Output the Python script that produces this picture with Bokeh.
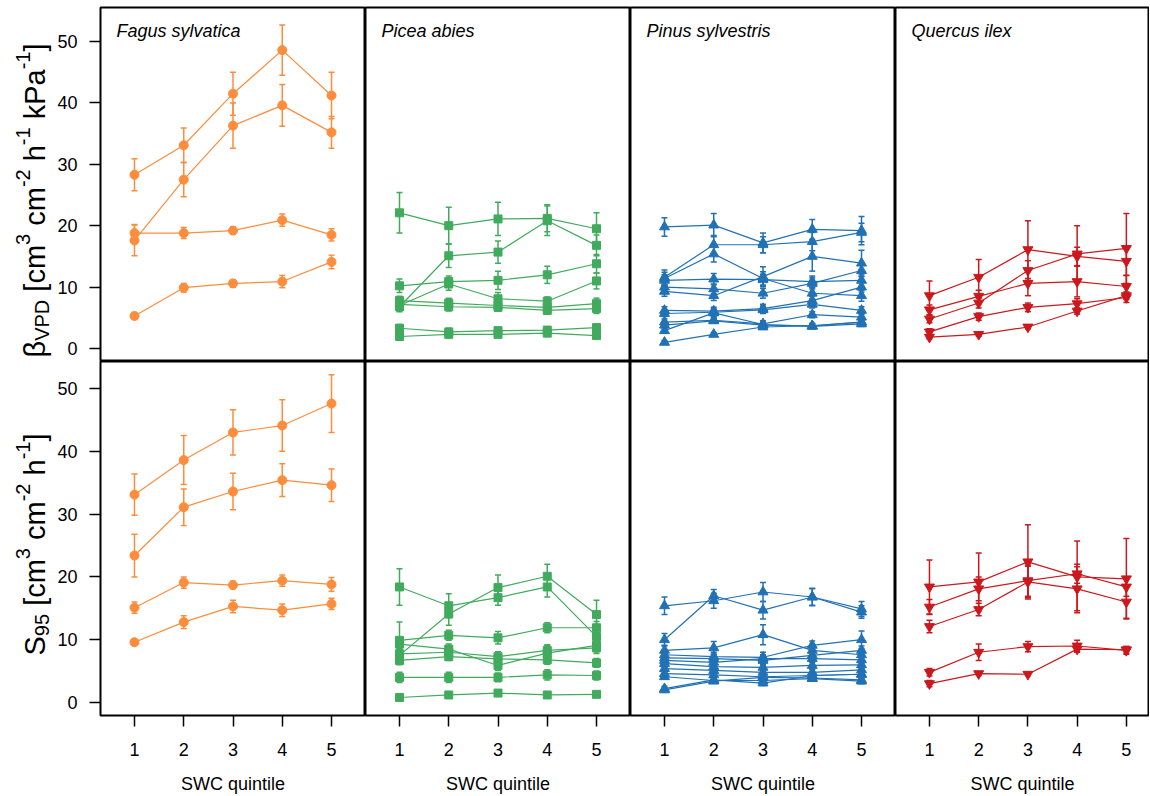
import numpy as np
from bokeh.plotting import figure
from bokeh.models import ColumnDataSource, Whisker, TeeHead, Label, FixedTicker, Range1d
from bokeh.layouts import gridplot
from bokeh.embed import file_html
from bokeh.resources import INLINE

# ---------------- data ----------------
quintile = [1, 2, 3, 4, 5]
species = ["Fagus sylvatica", "Picea abies", "Pinus sylvestris", "Quercus ilex"]
y_ticks = [0, 10, 20, 30, 40, 50]

# Fagus sylvatica
fs_beta = [[28.3, 33.1, 41.5, 48.6, 41.2],
           [17.6, 27.5, 36.3, 39.6, 35.2],
           [18.8, 18.8, 19.2, 20.9, 18.5],
           [5.3, 9.9, 10.6, 10.9, 14.1]]
fs_beta_se = [[2.6, 2.8, 3.5, 4.1, 3.8],
              [2.5, 2.8, 3.7, 3.4, 2.6],
              [1.4, 0.9, 0.6, 1.0, 1.0],
              [0.3, 0.7, 0.6, 1.0, 1.1]]
fs_s95 = [[33.1, 38.6, 43.0, 44.1, 47.6],
          [23.4, 31.1, 33.6, 35.4, 34.6],
          [15.1, 19.1, 18.7, 19.4, 18.8],
          [9.6, 12.8, 15.3, 14.7, 15.7]]
fs_s95_se = [[3.3, 3.9, 3.6, 4.1, 4.6],
             [3.4, 2.9, 2.9, 2.6, 2.6],
             [0.9, 0.9, 0.6, 0.9, 1.1],
             [0.3, 1.0, 1.0, 1.0, 0.9]]

# Picea abies
pa_beta = [[22.1, 20.0, 21.1, 21.2, 19.5],
           [6.8, 15.1, 15.7, 20.8, 16.8],
           [10.2, 10.9, 11.1, 12.0, 13.8],
           [7.0, 10.5, 8.1, 7.7, 11.0],
           [7.8, 7.4, 7.0, 6.7, 7.3],
           [7.2, 6.8, 6.7, 6.2, 6.5],
           [3.3, 2.7, 2.9, 3.0, 3.4],
           [1.95, 2.3, 2.3, 2.5, 2.1]]
pa_beta_se = [[3.3, 3.0, 2.7, 2.2, 2.6],
              [0.8, 1.9, 1.8, 2.4, 1.7],
              [1.1, 0.9, 1.5, 1.4, 1.5],
              [0.8, 1.0, 1.0, 0.7, 1.3],
              [0.7, 0.8, 0.8, 0.7, 0.9],
              [0.6, 0.7, 0.6, 0.6, 0.8],
              [0.6, 0.6, 0.5, 0.5, 0.5],
              [0.3, 0.3, 0.3, 0.3, 0.3]]
pa_s95 = [[18.4, 15.4, 16.7, 18.4, 10.5],
          [7.5, 14.1, 18.3, 20.1, 14.0],
          [9.9, 10.7, 10.3, 11.9, 11.9],
          [9.3, 8.5, 5.9, 7.85, 9.1],
          [7.75, 8.0, 7.3, 8.3, 8.7],
          [6.7, 7.3, 6.95, 6.8, 6.3],
          [4.0, 4.0, 4.0, 4.4, 4.3],
          [0.8, 1.2, 1.5, 1.2, 1.3]]
pa_s95_se = [[2.9, 1.9, 1.2, 1.6, 1.3],
             [1.0, 1.8, 2.0, 1.9, 2.3],
             [2.9, 0.8, 1.0, 0.8, 1.0],
             [1.0, 0.8, 0.8, 1.2, 1.0],
             [0.8, 0.7, 0.8, 0.9, 0.9],
             [0.7, 0.6, 0.6, 0.7, 0.7],
             [0.8, 0.8, 0.7, 0.8, 0.7],
             [0.2, 0.2, 0.2, 0.2, 0.2]]

# Pinus sylvestris
ps_beta = [[19.8, 20.1, 17.2, 19.4, 19.2],
           [11.6, 16.9, 16.9, 17.4, 18.9],
           [11.4, 15.4, 11.4, 9.0, 8.6],
           [9.3, 8.6, 11.7, 15.0, 13.9],
           [11.1, 11.3, 11.2, 10.9, 11.1],
           [10.0, 9.7, 9.0, 10.6, 12.7],
           [6.2, 6.1, 6.5, 7.8, 10.0],
           [5.7, 5.9, 6.3, 7.2, 6.2],
           [4.3, 4.6, 4.0, 5.5, 5.1],
           [3.8, 4.5, 3.8, 3.7, 4.3],
           [2.9, 5.8, 3.9, 3.6, 4.0],
           [1.0, 2.3, 3.5, 3.7, 4.3]]
ps_beta_se = [[1.5, 1.9, 1.6, 1.6, 2.3],
              [1.2, 1.5, 1.3, 1.5, 1.5],
              [1.0, 1.3, 1.1, 0.9, 0.9],
              [0.8, 0.8, 1.6, 2.4, 2.1],
              [0.9, 0.9, 0.9, 0.9, 1.0],
              [0.8, 0.8, 0.8, 0.9, 1.0],
              [0.6, 0.6, 0.7, 0.7, 0.8],
              [0.5, 0.6, 0.6, 0.6, 0.6],
              [0.5, 0.5, 0.5, 0.5, 0.5],
              [0.4, 0.4, 0.4, 0.4, 0.4],
              [0.4, 0.5, 0.4, 0.4, 0.4],
              [0.3, 0.3, 0.3, 0.3, 0.4]]
ps_s95 = [[15.4, 16.2, 17.6, 16.8, 14.4],
          [10.0, 17.0, 14.7, 16.8, 14.9],
          [8.3, 8.7, 10.8, 8.3, 7.6],
          [7.6, 7.3, 7.2, 9.1, 10.0],
          [7.1, 7.0, 6.7, 7.5, 8.3],
          [6.7, 6.4, 7.0, 7.0, 6.8],
          [6.2, 5.7, 5.6, 5.9, 6.0],
          [5.4, 5.1, 4.8, 4.8, 5.2],
          [4.6, 4.4, 4.1, 4.3, 4.5],
          [4.1, 3.5, 3.5, 3.8, 3.4],
          [2.2, 3.6, 3.1, 4.3, 4.5],
          [2.0, 3.4, 4.0, 3.9, 3.6]]
ps_s95_se = [[1.4, 1.2, 1.5, 1.4, 1.0],
             [1.0, 1.0, 1.4, 1.3, 1.2],
             [0.8, 1.0, 1.6, 0.8, 0.8],
             [0.7, 0.7, 0.8, 0.7, 1.4],
             [0.7, 0.7, 0.7, 0.7, 0.7],
             [0.6, 0.6, 0.6, 0.6, 0.6],
             [0.6, 0.6, 0.6, 0.6, 0.6],
             [0.5, 0.5, 0.5, 0.5, 0.5],
             [0.5, 0.5, 0.5, 0.5, 0.5],
             [0.4, 0.4, 0.4, 0.4, 0.4],
             [0.4, 0.4, 0.4, 0.4, 0.4],
             [0.3, 0.3, 0.3, 0.3, 0.3]]

# Quercus ilex
qi_beta = [[8.6, 11.6, 16.1, 15.0, 14.2],
           [6.3, 8.5, 10.6, 10.9, 10.1],
           [4.8, 7.4, 12.7, 15.4, 16.3],
           [2.7, 5.2, 6.7, 7.3, 8.3],
           [1.85, 2.3, 3.5, 6.1, 8.6]]
qi_beta_se = [[2.4, 2.9, 4.7, 1.5, 2.3],
              [0.8, 1.0, 2.0, 2.5, 1.8],
              [0.6, 0.8, 1.6, 4.6, 5.7],
              [0.5, 0.6, 0.7, 0.8, 0.8],
              [0.3, 0.3, 0.3, 0.5, 0.6]]
qi_s95 = [[18.4, 19.2, 22.4, 20.0, 19.7],
          [15.2, 18.1, 19.4, 20.5, 18.4],
          [12.1, 14.8, 19.2, 18.1, 16.0],
          [4.8, 8.0, 8.9, 9.0, 8.3],
          [3.0, 4.6, 4.5, 8.5, 8.4]]
qi_s95_se = [[4.3, 4.6, 5.9, 5.7, 6.4],
             [1.2, 1.9, 2.5, 1.5, 1.5],
             [1.0, 1.0, 2.5, 3.5, 2.6],
             [0.6, 1.3, 0.8, 0.9, 0.6],
             [0.5, 0.3, 0.2, 0.5, 0.5]]

beta_data = [(fs_beta, fs_beta_se), (pa_beta, pa_beta_se), (ps_beta, ps_beta_se), (qi_beta, qi_beta_se)]
s95_data = [(fs_s95, fs_s95_se), (pa_s95, pa_s95_se), (ps_s95, ps_s95_se), (qi_s95, qi_s95_se)]

# ---------------- style / layout ----------------
FONT = "Liberation Sans"
colors = ["#fd8d3c", "#41ab5d", "#2171b5", "#cb181d"]
markers = ["circle", "square", "triangle", "inverted_triangle"]
msizes = [9, 8, 10, 10]

LABEL_W = 54          # width of the y-label strip
LEFT_BORDER = 46      # room for the y tick labels
frame_w = [265, 265, 265, 254]
frame_h = [354, 354]
TOP_BORDER = 7
x_ranges = [(0.31, 5.69), (0.31, 5.69), (0.31, 5.69), (0.31, 5.47)]
y_ranges = [(-2.12, 55.54), (-2.07, 54.30)]

# approximate advance widths (em) for laying out the composite y labels
W = {"β": 0.574, "V": 0.667, "P": 0.667, "D": 0.722, " ": 0.278, "[": 0.278, "]": 0.278,
     "c": 0.5, "m": 0.833, "3": 0.556, "-": 0.333, "2": 0.556, "1": 0.556, "h": 0.556,
     "k": 0.5, "a": 0.556, "S": 0.667, "9": 0.556, "5": 0.556}

ylab_top = [("β", "n", 0), ("VPD", "sub", 0), ("[cm", "n", 1), ("3", "sup", 0), ("cm", "n", 1),
            ("-2", "sup", 0), ("h", "n", 1), ("-1", "sup", 0), ("kPa", "n", 1), ("-1", "sup", 0), ("]", "n", 0)]
ylab_bot = [("S", "n", 0), ("95", "sub", 0), ("[cm", "n", 1), ("3", "sup", 0), ("cm", "n", 1),
            ("-2", "sup", 0), ("h", "n", 1), ("-1", "sup", 0), ("]", "n", 0)]


def label_strip(row):
    """A blank strip left of the panels that carries the rotated y-axis title."""
    h = TOP_BORDER + frame_h[0] if row == 0 else frame_h[1]
    p = figure(frame_width=LABEL_W, frame_height=h, x_range=Range1d(0, LABEL_W), y_range=Range1d(0, h),
               output_backend="svg", toolbar_location=None, x_axis_location=None, y_axis_location=None,
               min_border_left=0, min_border_right=0, min_border_top=0, min_border_bottom=0,
               outline_line_color=None, background_fill_color="white", border_fill_color="white")
    p.grid.visible = False
    pieces = ylab_top if row == 0 else ylab_bot
    y = h - (350 if row == 0 else 655 - (TOP_BORDER + frame_h[0]))  # start (screen y, from bottom)
    base_x, main, script = 34, 29, 20
    for txt, kind, lead_space in pieces:
        size = main if kind == "n" else script
        if lead_space:
            y += W[" "] * main
        dx = {"n": 0, "sub": 7, "sup": -12}[kind]
        p.add_layout(Label(x=base_x + dx, y=y, x_units="screen", y_units="screen",
                           text=txt, angle=np.pi / 2, text_align="left", text_baseline="alphabetic",
                           text_font=FONT, text_font_size=f"{size}px", text_color="black"))
        y += sum(W.get(ch, 0.55) for ch in txt) * size
    return p


def make_panel(row, col):
    vals, ses = (beta_data if row == 0 else s95_data)[col]
    p = figure(frame_width=frame_w[col], frame_height=frame_h[row],
               x_range=Range1d(*x_ranges[col]), y_range=Range1d(*y_ranges[row]),
               output_backend="svg", toolbar_location=None,
               x_axis_location="below" if row == 1 else None,
               y_axis_location="left" if col == 0 else None,
               min_border_left=LEFT_BORDER if col == 0 else 0, min_border_right=0,
               min_border_top=TOP_BORDER if row == 0 else 0, min_border_bottom=0,
               background_fill_color="white", border_fill_color="white",
               outline_line_color="black", outline_line_width=2)
    p.grid.visible = False
    for ax in p.axis:
        ax.axis_line_color = None
        ax.major_tick_in = 0
        ax.major_tick_out = 11
        ax.major_tick_line_color = "black"
        ax.major_tick_line_width = 1.5
        ax.minor_tick_line_color = None
        ax.major_label_text_font = FONT
        ax.major_label_text_font_size = "18px"
        ax.major_label_text_color = "black"
    if row == 1:
        p.xaxis.ticker = FixedTicker(ticks=quintile)
        p.xaxis.major_label_standoff = 16
        p.xaxis.axis_label = "SWC quintile"
        p.xaxis.axis_label_standoff = 15
        p.xaxis.axis_label_text_font = FONT
        p.xaxis.axis_label_text_font_size = "18px"
        p.xaxis.axis_label_text_font_style = "normal"
        p.xaxis.axis_label_text_color = "black"
    if col == 0:
        p.yaxis.ticker = FixedTicker(ticks=y_ticks)
        p.yaxis.major_label_standoff = 12
    if row == 0:
        p.add_layout(Label(x=16, y=frame_h[row] - 23, x_units="screen", y_units="screen",
                           text=species[col], text_font=FONT, text_font_style="italic",
                           text_font_size="18px", text_baseline="middle", text_color="black"))

    c = colors[col]
    for v, e in zip(vals, ses):
        v = np.array(v)
        e = np.array(e)
        src = ColumnDataSource(dict(x=quintile, y=v, lo=v - e, hi=v + e))
        p.add_layout(Whisker(base="x", upper="hi", lower="lo", source=src, line_color=c, line_width=1.5,
                             upper_head=TeeHead(size=6, line_color=c, line_width=1.5),
                             lower_head=TeeHead(size=6, line_color=c, line_width=1.5)))
        p.line("x", "y", source=src, line_color=c, line_width=1.2)
        p.scatter("x", "y", source=src, marker=markers[col], size=msizes[col],
                  fill_color=c, line_color=c)
    return p


grid = [[label_strip(r)] + [make_panel(r, c) for c in range(4)] for r in range(2)]
layout = gridplot(grid, toolbar_location=None)

open("out.html", "w").write(file_html(layout, INLINE))
